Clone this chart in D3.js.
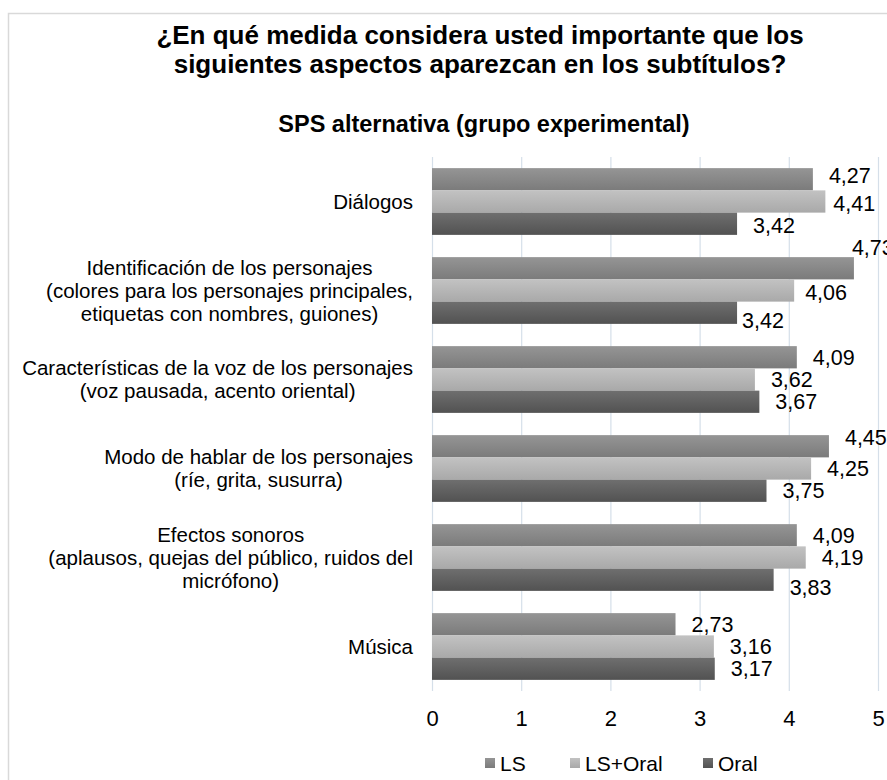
<!DOCTYPE html>
<html>
<head>
<meta charset="utf-8">
<script src="https://cdn.jsdelivr.net/npm/d3@7"></script>
<style>
  html, body { margin: 0; padding: 0; background: #fff; }
  svg { display: block; font-family: "Liberation Sans", Arial, sans-serif; }
</style>
</head>
<body>
<div id="chart"></div>
<script>
// data
var categories = [
    "Diálogos",
    "Identificación de los personajes",
    "Características de la voz de los personajes",
    "Modo de hablar de los personajes",
    "Efectos sonoros",
    "Música"
];
var categoryLines = [
    ["Diálogos"],
    ["Identificación de los personajes", "(colores para los personajes principales,", "etiquetas con nombres, guiones)"],
    ["Características de la voz de los personajes", "(voz pausada, acento oriental)"],
    ["Modo de hablar de los personajes", "(ríe, grita, susurra)"],
    ["Efectos sonoros", "(aplausos, quejas del público, ruidos del", "micrófono)"],
    ["Música"]
];
var seriesNames = ["LS", "LS+Oral", "Oral"];
var lsValues = [4.27, 4.73, 4.09, 4.45, 4.09, 2.73];
var lsOralValues = [4.41, 4.06, 3.62, 4.25, 4.19, 3.16];
var oralValues = [3.42, 3.42, 3.67, 3.75, 3.83, 3.17];
var xTicks = [0, 1, 2, 3, 4, 5];
var titleLines = ["¿En qué medida considera usted importante que los", "siguientes aspectos aparezcan en los subtítulos?"];
var subtitle = "SPS alternativa (grupo experimental)";

// label nudges where the original labels were moved by hand (series index, category index)
var labelNudge = {
    "0|0": [0, -4], "1|0": [-8, 2], "2|0": [0, 2],
    "0|1": [-18, -21], "1|1": [-5, 2], "2|1": [-11, 8],
    "0|3": [0, -9], "2|4": [0, 8]
};

var W = 887, H = 780;
var margin = { top: 157, left: 432, right: 9, bottom: 89 };

var svg = d3.select('#chart').append('svg')
    .attr('width', W)
    .attr('height', H);

var defs = svg.append('defs');
var grads = [
    { id: 'g-ls', top: '#959595', bottom: '#7b7b7b' },
    { id: 'g-lsoral', top: '#c2c2c2', bottom: '#a9a9a9' },
    { id: 'g-oral', top: '#6f6f6f', bottom: '#525252' }
];
grads.forEach(function(g) {
    var lg = defs.append('linearGradient')
        .attr('id', g.id)
        .attr('x1', 0).attr('y1', 0).attr('x2', 0).attr('y2', 1);
    lg.append('stop').attr('offset', '0%').attr('stop-color', g.top);
    lg.append('stop').attr('offset', '100%').attr('stop-color', g.bottom);
});

// outer chart frame (runs off the right and bottom edges)
svg.append('rect')
    .attr('x', 8.5).attr('y', 13.5)
    .attr('width', 900).attr('height', 800)
    .attr('fill', 'none')
    .attr('stroke', '#d9d9d9')
    .attr('stroke-width', 1.5);

var x = d3.scaleLinear()
    .domain([0, 5])
    .range([margin.left, W - margin.right]);

var y = d3.scaleBand()
    .domain(categories)
    .range([margin.top, H - margin.bottom])
    .paddingInner(0.25)
    .paddingOuter(0.125);

var ySub = d3.scaleBand()
    .domain(seriesNames)
    .range([0, y.bandwidth()]);

// gridlines
var xAxis = d3.axisBottom(x)
    .tickValues(xTicks)
    .tickSize(-(H - margin.bottom - margin.top))
    .tickPadding(19)
    .tickFormat(d3.format('d'));

var gx = svg.append('g')
    .attr('class', 'x-axis')
    .attr('transform', 'translate(0,' + (H - margin.bottom) + ')')
    .call(xAxis);
gx.select('.domain').remove();
gx.selectAll('.tick line').attr('stroke', '#d5dfe9').attr('stroke-width', 1.2);
gx.selectAll('.tick text')
    .attr('fill', '#000')
    .style('font-size', '22px')
    .attr('dy', '0.71em');

// bars
var seriesData = [lsValues, lsOralValues, oralValues];
var fills = ['url(#g-ls)', 'url(#g-lsoral)', 'url(#g-oral)'];
var fmt = function(v) { return d3.format('.2f')(v).replace('.', ','); };

var rows = [];
seriesData.forEach(function(vals, s) {
    vals.forEach(function(v, c) {
        rows.push({ s: s, c: c, value: v });
    });
});

svg.append('g').selectAll('rect')
    .data(rows)
    .enter().append('rect')
    .attr('x', x(0))
    .attr('y', function(d) { return y(categories[d.c]) + ySub(seriesNames[d.s]); })
    .attr('width', function(d) { return x(d.value) - x(0); })
    .attr('height', ySub.bandwidth())
    .attr('fill', function(d) { return fills[d.s]; });

// data labels
svg.append('g').selectAll('text')
    .data(rows)
    .enter().append('text')
    .attr('x', function(d) {
        var n = labelNudge[d.s + '|' + d.c] || [0, 0];
        return x(d.value) + 16 + n[0];
    })
    .attr('y', function(d) {
        var n = labelNudge[d.s + '|' + d.c] || [0, 0];
        return y(categories[d.c]) + ySub(seriesNames[d.s]) + ySub.bandwidth() / 2 + n[1];
    })
    .attr('dy', '0.36em')
    .style('font-size', '21.5px')
    .attr('fill', '#000')
    .text(function(d) { return fmt(d.value); });

// category labels: lines centred on each other, block right aligned
var labelRight = margin.left - 19;
var lineH = 23;
categories.forEach(function(cat, i) {
    var lines = categoryLines[i];
    var g = svg.append('g');
    var cy = y(cat) + y.bandwidth() / 2;
    var texts = g.selectAll('text')
        .data(lines)
        .enter().append('text')
        .attr('y', function(d, j) { return cy + (j - (lines.length - 1) / 2) * lineH; })
        .attr('dy', '0.36em')
        .attr('text-anchor', 'middle')
        .style('font-size', '20.5px')
        .attr('fill', '#000')
        .text(function(d) { return d; });
    var maxW = 0;
    texts.each(function() { maxW = Math.max(maxW, this.getComputedTextLength()); });
    texts.attr('x', labelRight - maxW / 2);
});

// titles
svg.append('g').selectAll('text')
    .data(titleLines)
    .enter().append('text')
    .attr('x', 480)
    .attr('y', function(d, i) { return 44 + i * 29; })
    .attr('text-anchor', 'middle')
    .style('font-size', '26px')
    .style('font-weight', 'bold')
    .attr('fill', '#000')
    .text(function(d) { return d; });

svg.append('text')
    .attr('x', 484)
    .attr('y', 132)
    .attr('text-anchor', 'middle')
    .style('font-size', '23.5px')
    .style('font-weight', 'bold')
    .attr('fill', '#000')
    .text(subtitle);

// legend
var legendX = [485, 570, 703];
var legend = svg.append('g').selectAll('g')
    .data(seriesNames)
    .enter().append('g')
    .attr('transform', function(d, i) { return 'translate(' + legendX[i] + ',758)'; });
legend.append('rect')
    .attr('width', 10).attr('height', 10)
    .attr('fill', function(d, i) { return fills[i]; });
legend.append('text')
    .attr('x', 15)
    .attr('y', 5)
    .attr('dy', '0.36em')
    .style('font-size', '21px')
    .attr('fill', '#000')
    .text(function(d) { return d; });
</script>
</body>
</html>
